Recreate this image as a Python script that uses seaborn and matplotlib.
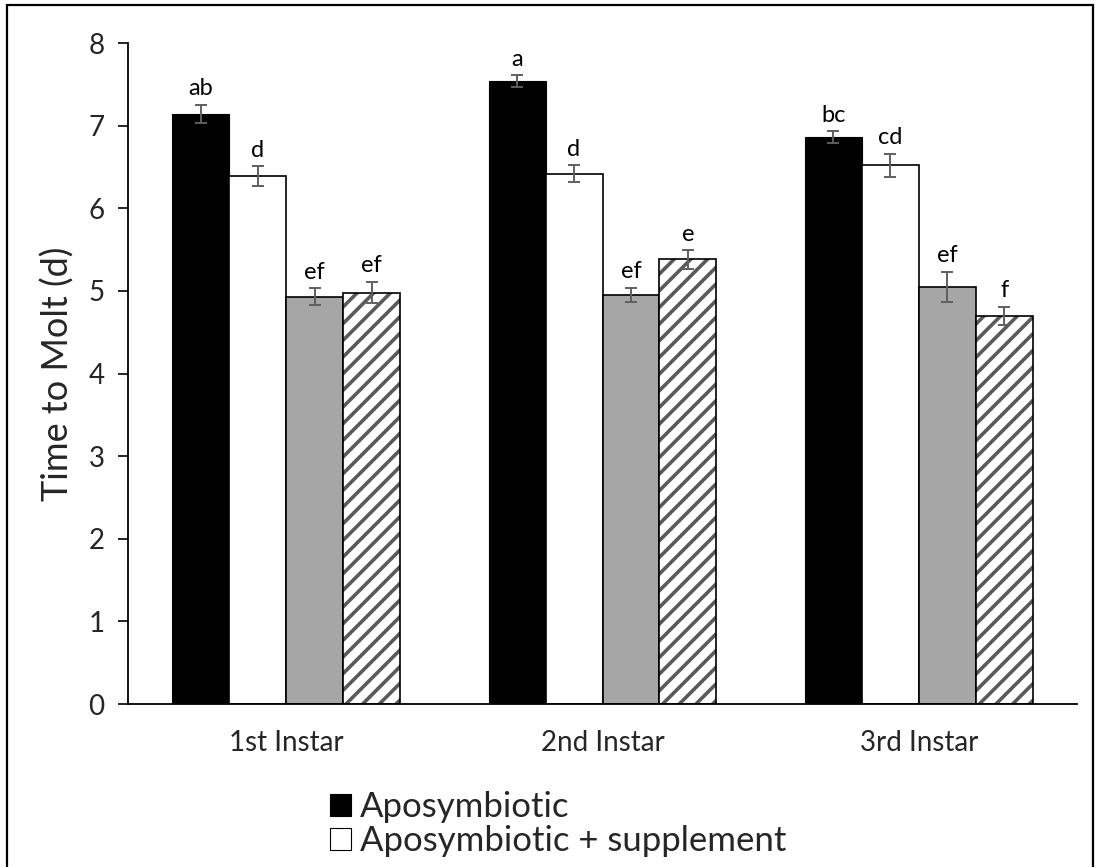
import matplotlib
matplotlib.use("Agg")
import matplotlib.pyplot as plt
from matplotlib.patches import Rectangle, Patch
import seaborn as sns
import pandas as pd
import numpy as np

# Mean time to molt (days) per instar and treatment, with standard errors
instars = ["1st Instar", "2nd Instar", "3rd Instar"]
treatments = ["Aposymbiotic", "Aposymbiotic + supplement",
              "Symbiotic", "Symbiotic + supplement"]
aposymbiotic = [7.14, 7.54, 6.86]
aposymbiotic_supp = [6.39, 6.42, 6.52]
symbiotic = [4.93, 4.95, 5.05]
symbiotic_supp = [4.98, 5.38, 4.70]
err_aposymbiotic = [0.11, 0.07, 0.07]
err_aposymbiotic_supp = [0.12, 0.10, 0.14]
err_symbiotic = [0.10, 0.09, 0.18]
err_symbiotic_supp = [0.13, 0.11, 0.11]
letters_aposymbiotic = ["ab", "a", "bc"]
letters_aposymbiotic_supp = ["d", "d", "cd"]
letters_symbiotic = ["ef", "ef", "ef"]
letters_symbiotic_supp = ["ef", "e", "f"]

means = [aposymbiotic, aposymbiotic_supp, symbiotic, symbiotic_supp]
errs = [err_aposymbiotic, err_aposymbiotic_supp, err_symbiotic, err_symbiotic_supp]
letters = [letters_aposymbiotic, letters_aposymbiotic_supp,
           letters_symbiotic, letters_symbiotic_supp]

rows = []
for t, vals in zip(treatments, means):
    for inst, v in zip(instars, vals):
        rows.append({"instar": inst, "treatment": t, "days": v})
df = pd.DataFrame(rows)

sns.set_style("white")
plt.rcParams["font.family"] = ["Lato", "DejaVu Sans"]
plt.rcParams["hatch.linewidth"] = 2.6

fig = plt.figure(figsize=(10.96, 8.67), dpi=100)
ax = fig.add_axes([0.1168, 0.188, 0.8659, 0.7624])

fills = ["#000000", "#FFFFFF", "#A6A6A6", "#FFFFFF"]
sns.barplot(data=df, x="instar", y="days", hue="treatment",
            hue_order=treatments, order=instars, palette=fills,
            errorbar=None, width=0.72, gap=0, legend=False, ax=ax)

bar_containers = list(ax.containers)
for i, cont in enumerate(bar_containers):
    for j, p in enumerate(cont.patches):
        if i == 0:
            p.set_edgecolor("#000000")
            p.set_linewidth(0.8)
        elif i == 3:
            # hatched bar: gray stripes, separate black outline
            p.set_hatch("//")
            p.set_edgecolor("#5A5A5A")
            p.set_linewidth(0)
            ax.add_patch(Rectangle((p.get_x(), p.get_y()), p.get_width(),
                                   p.get_height(), fill=False,
                                   edgecolor="#000000", linewidth=1.2,
                                   zorder=p.get_zorder() + 0.1))
        else:
            p.set_edgecolor("#000000")
            p.set_linewidth(1.2)
        cx = p.get_x() + p.get_width() / 2
        h = p.get_height()
        ax.errorbar(cx, h, yerr=errs[i][j], fmt="none", ecolor="#5F5F5F",
                    elinewidth=1.4, capsize=4.5, capthick=1.4, zorder=5)
        ax.annotate(letters[i][j], (cx, h + errs[i][j]), xytext=(0, 4),
                    textcoords="offset points", ha="center", va="bottom",
                    fontsize=17, color="#000000")

ax.set_ylim(0, 8)
ax.set_yticks(np.arange(0, 9, 1))
ax.set_xlim(-0.5, 2.5)
ax.set_xlabel("")
ax.set_ylabel("Time to Molt (d)", fontsize=26, labelpad=10)
ax.tick_params(axis="y", labelsize=20, length=7, width=1.2, direction="out",
               left=True, pad=10, color="#000000")
ax.tick_params(axis="x", labelsize=20, length=0, pad=19)
sns.despine(ax=ax, top=True, right=True)
for s in ["left", "bottom"]:
    ax.spines[s].set_color("#000000")
    ax.spines[s].set_linewidth(1.3)

# legend below the plot area
handles = [Patch(facecolor="#000000", edgecolor="#000000", linewidth=0.8),
           Patch(facecolor="#FFFFFF", edgecolor="#000000", linewidth=0.8)]
fig.legend(handles, treatments[:2], loc="upper left",
           bbox_to_anchor=(313 / 1096, 1 - 774 / 867), frameon=False,
           fontsize=25, handlelength=0.6, handleheight=0.6,
           handletextpad=0.25, labelspacing=0.05, borderpad=0)

# figure frame
fig.patches.append(Rectangle((7 / 1096, -0.05), 1086 / 1096, 1.05 - 5 / 867,
                             transform=fig.transFigure, fill=False,
                             edgecolor="#000000", linewidth=1.6))

fig.savefig("out.png", dpi=100)
